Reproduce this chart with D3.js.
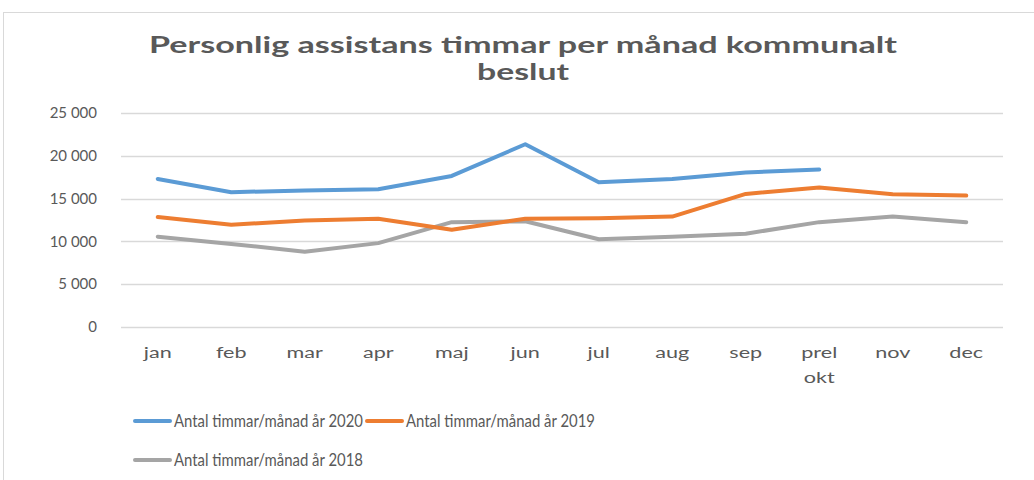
<!DOCTYPE html>
<meta charset="utf-8">
<script src="https://d3js.org/d3.v7.min.js"></script>
<style>
body { margin: 0; background: #fff; }
text { font-family: Lato, "Open Sans", sans-serif; fill: #595959; }
</style>
<body>
<div id="canvas"></div>
<script>

// kategorier (månader) - "prel okt" bryts på två rader
var months = ["jan", "feb", "mar", "apr", "maj", "jun", "jul", "aug", "sep", "prel okt", "nov", "dec"];

// värden
var hours2020 = [17300, 15750, 15950, 16100, 17650, 21350, 16900, 17300, 18050, 18400, null, null];
var hours2019 = [12850, 11950, 12450, 12650, 11350, 12650, 12700, 12900, 15550, 16300, 15500, 15350];
var hours2018 = [10550, 9700, 8800, 9800, 12250, 12350, 10250, 10550, 10900, 12250, 12900, 12250];

var yTicks = [0, 5000, 10000, 15000, 20000, 25000];
var seriesNames = ["Antal timmar/månad år 2020", "Antal timmar/månad år 2019", "Antal timmar/månad år 2018"];
var colors = ["#5b9bd5", "#ed7d31", "#a5a5a5"];

var width = 1034, height = 480;

var svg = d3.select("#canvas").append("svg")
    .attr("width", width)
    .attr("height", height);

// ram runt diagrammet
svg.append("rect")
    .attr("x", 3.5).attr("y", 12.5)
    .attr("width", 1040).attr("height", 480)
    .attr("fill", "none")
    .attr("stroke", "#d9d9d9");

// titel
var title = svg.append("text")
    .attr("text-anchor", "middle")
    .style("font-size", "23px")
    .style("font-weight", "bold");
title.append("tspan").attr("x", 523).attr("y", 53)
    .attr("textLength", 748).attr("lengthAdjust", "spacingAndGlyphs")
    .text("Personlig assistans timmar per månad kommunalt");
title.append("tspan").attr("x", 523).attr("y", 80)
    .attr("textLength", 92).attr("lengthAdjust", "spacingAndGlyphs")
    .text("beslut");

var plot = {left: 121, right: 1003, top: 113, bottom: 327};

var x = d3.scaleBand()
    .domain(months)
    .range([plot.left, plot.right]);

var y = d3.scaleLinear()
    .domain([0, 25000])
    .range([plot.bottom, plot.top]);

var fmt = function(v) { return d3.format(",")(v).replace(/,/g, " "); };

// rutnät
svg.append("g")
    .selectAll("line")
    .data(yTicks)
    .enter().append("line")
    .attr("x1", plot.left).attr("x2", plot.right)
    .attr("y1", function(d) { return Math.round(y(d)) + 0.5; })
    .attr("y2", function(d) { return Math.round(y(d)) + 0.5; })
    .attr("stroke", "#d9d9d9")
    .attr("stroke-width", 1.5);

// y-axel etiketter
svg.append("g")
    .selectAll("text")
    .data(yTicks)
    .enter().append("text")
    .attr("x", 97)
    .attr("y", function(d) { return y(d); })
    .attr("dy", "0.35em")
    .attr("text-anchor", "end")
    .style("font-size", "15px")
    .text(fmt);

// x-axel etiketter (lite utdragna i bredd som i originalet)
var xl = svg.append("g")
    .selectAll("text")
    .data(months)
    .enter().append("text")
    .attr("transform", function(d) { return "translate(" + (x(d) + x.bandwidth() / 2) + ",0) scale(1.35,1)"; })
    .attr("text-anchor", "middle")
    .style("font-size", "16px");
xl.each(function(d) {
    var parts = d.split(" ");
    var t = d3.select(this);
    parts.forEach(function(p, i) {
        t.append("tspan")
            .attr("x", 0)
            .attr("y", 358 + i * 25)
            .text(p);
    });
});

// linjer
var line = d3.line()
    .defined(function(d) { return d != null; })
    .x(function(d, i) { return x(months[i]) + x.bandwidth() / 2; })
    .y(function(d) { return y(d); });

var allSeries = [hours2020, hours2019, hours2018];

svg.append("g")
    .selectAll("path")
    .data(allSeries.slice().reverse())
    .enter().append("path")
    .attr("d", line)
    .attr("fill", "none")
    .attr("stroke", function(d, i) { return colors[2 - i]; })
    .attr("stroke-width", 4)
    .attr("stroke-linejoin", "round")
    .attr("stroke-linecap", "round");

// legend
var legendPos = [[135, 421], [367, 421], [135, 460]];
var legend = svg.selectAll(".legend")
    .data(seriesNames)
    .enter().append("g")
    .attr("class", "legend")
    .attr("transform", function(d, i) { return "translate(" + legendPos[i][0] + "," + legendPos[i][1] + ")"; });

legend.append("line")
    .attr("x1", 0).attr("x2", 35)
    .attr("stroke", function(d, i) { return colors[i]; })
    .attr("stroke-width", 4)
    .attr("stroke-linecap", "round");

legend.append("text")
    .attr("x", 39)
    .attr("dy", "0.35em")
    .attr("textLength", 189)
    .attr("lengthAdjust", "spacingAndGlyphs")
    .style("font-size", "17px")
    .text(function(d) { return d; });

</script>
</body>
